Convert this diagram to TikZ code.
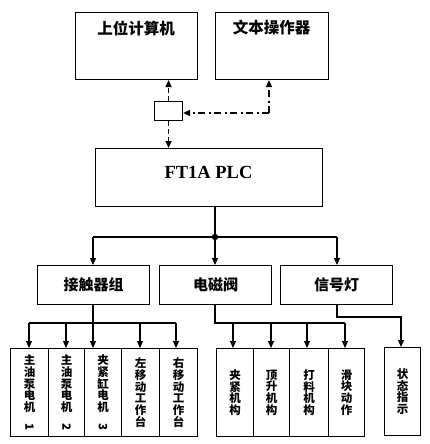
\documentclass[tikz,border=0pt]{standalone}
\usepackage{fontspec}
\setmainfont{Liberation Serif}
\newfontfamily\cjk{Noto Sans CJK SC}
\usetikzlibrary{arrows.meta}
\tikzset{
  box/.style={draw, line width=1.1pt, inner sep=0pt},
  conn/.style={line width=1.1pt},
  arr/.style={conn, -{Triangle[length=7pt,width=6pt]}},
  dash1/.style={arr, line width=1.4pt, dash pattern=on 5pt off 3pt},
  dashdot/.style={arr, line width=1.4pt, dash pattern=on 7pt off 3.5pt on 2pt off 3.5pt},
  toptext/.style={font=\cjk\bfseries\fontsize{15.5}{17}\selectfont},
  midtext/.style={font=\cjk\bfseries\fontsize{15}{17}\selectfont},
  vtext/.style={font=\cjk\bfseries\fontsize{11.5}{11.8}\selectfont, align=center}
}
\begin{document}
\begin{tikzpicture}[x=1pt,y=-1pt]
\useasboundingbox (0,0) rectangle (430,444);
% top boxes
\node[box, minimum width=122, minimum height=67, anchor=north west] (pc) at (75,12) {};
\node[toptext] (pct) at (136,28) {上位计算机};
\node[box, minimum width=113, minimum height=67, anchor=north west] (op) at (215,12) {};
\node[toptext] (opt) at (271.5,28) {文本操作器};
% small box
\node[box, minimum width=28, minimum height=19, anchor=north west] (sm) at (154,101) {};
% PLC
\node[box, minimum width=227, minimum height=58, anchor=north west] (plc) at (95,148) {};
\node[font=\bfseries\fontsize{18.5}{20}\selectfont] (plct) at (208.5,172) {FT1A PLC};
% dashed connections
\draw[dash1] (sm.north) -- (sm.north |- pc.south);
\draw[dash1] (sm.south) -- (sm.south |- plc.north);
\coordinate (dd) at (269,113);
\draw[dashdot] (dd) -- (dd -| sm.east);
\draw[dashdot] (dd) -- (dd |- op.south);
% middle
\coordinate (jn) at (215,237);
\draw[conn] (plc.south -| jn) -- (jn);
\fill (jn) circle (3.2pt);
\node[box, minimum width=112, minimum height=39, anchor=north west, midtext] (kc) at (37,265) {接触器组};
\node[box, minimum width=112, minimum height=39, anchor=north west, midtext] (dc) at (159,265) {电磁阀};
\node[box, minimum width=112, minimum height=39, anchor=north west, midtext] (xh) at (280,265) {信号灯};
\draw[conn] (93,237) -- (337,237);
\draw[arr] (93,237) -- (93,265);
\draw[arr] (jn) -- (215,265);
\draw[arr] (337,237) -- (337,265);
% bottom left boxes
\node[box, minimum width=38, minimum height=88, anchor=north west, vtext] (b1) at (10,348) {主\\油\\泵\\电\\机\\\rotatebox{-90}{1}};
\node[box, minimum width=36, minimum height=88, anchor=north west, vtext] (b2) at (48,348) {主\\油\\泵\\电\\机\\\rotatebox{-90}{2}};
\node[box, minimum width=37, minimum height=88, anchor=north west, vtext] (b3) at (84,348) {夹\\紧\\缸\\电\\机\\\rotatebox{-90}{3}};
\node[box, minimum width=38, minimum height=88, anchor=north west, vtext] (b4) at (121,348) {左\\移\\动\\工\\作\\台};
\node[box, minimum width=38, minimum height=88, anchor=north west, vtext] (b5) at (159,348) {右\\移\\动\\工\\作\\台};
\coordinate (lh) at (93,323);
\draw[conn] (93,304) -- (lh);
\draw[conn] (29,323) -- (176,323);
\draw[arr] (29,323) -- (29,348);
\draw[arr] (66,323) -- (66,348);
\draw[arr] (93,323) -- (93,348);
\draw[arr] (140,323) -- (140,348);
\draw[arr] (176,323) -- (176,348);
% bottom right boxes
\node[box, minimum width=37, minimum height=88, anchor=north west, vtext] (c1) at (216,348) {夹\\紧\\机\\构};
\node[box, minimum width=36, minimum height=88, anchor=north west, vtext] (c2) at (253,348) {顶\\升\\机\\构};
\node[box, minimum width=39, minimum height=88, anchor=north west, vtext] (c3) at (289,348) {打\\料\\机\\构};
\node[box, minimum width=36, minimum height=88, anchor=north west, vtext] (c4) at (328,348) {滑\\块\\动\\作};
\draw[conn] (215,304) -- (215,323) -- (345,323);
\draw[arr] (233,323) -- (233,348);
\draw[arr] (271,323) -- (271,348);
\draw[arr] (307,323) -- (307,348);
\draw[arr] (345,323) -- (345,348);
% status
\node[box, minimum width=36, minimum height=88, anchor=north west, vtext] (st) at (384,347) {状\\态\\指\\示};
\draw[arr] (337,304) -- (337,317) -- (401,317) -- (401,347);
\end{tikzpicture}
\end{document}
